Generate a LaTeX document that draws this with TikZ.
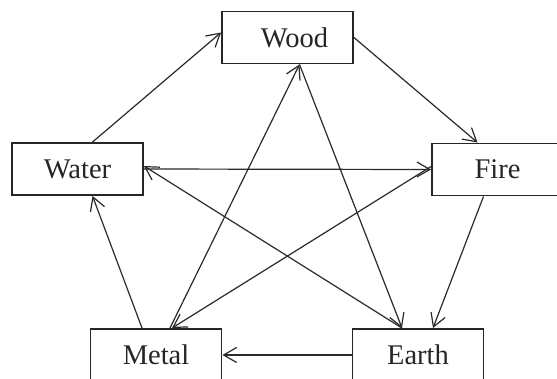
\documentclass[tikz,border=0pt]{standalone}
\usepackage{fontspec}
\setmainfont{Liberation Serif}
\usetikzlibrary{arrows.meta}
\definecolor{ink}{HTML}{2A2A2A}
\begin{document}
\begin{tikzpicture}[x=1pt,y=-1pt,
  element/.style={draw=black!85,line width=1.9pt,fill=white,minimum width=131pt,
    minimum height=52pt,inner sep=0pt,font=\fontsize{28.5}{31}\selectfont,text=black!85},
  flow/.style={draw=ink,line width=1.2pt,-{Straight Barb[length=13pt,width=15pt,line width=1.2pt]}}]
\useasboundingbox (0,0) rectangle (557,378);
\fill[white] (0,0) rectangle (557,378);

\node[element] (wood)  at (287.5,37.5) {\hspace*{14pt}Wood};
\node[element] (water) at (77.5,169)   {Water};
\node[element] (fire)  at (497.5,169.5){Fire};
\node[element] (metal) at (156,355)    {Metal};
\node[element] (earth) at (418,355)    {Earth};

% generating cycle around the outside
\draw[flow] ([xshift=15pt]water.north) -- ([yshift=5pt]wood.west);
\draw[flow] (wood.east) -- ([xshift=-20pt]fire.north);
\draw[flow] ([xshift=-14pt]fire.south) -- ([xshift=15pt]earth.north);
\draw[flow] (earth.west) -- (metal.east);
\draw[flow] ([xshift=-14pt]metal.north) -- ([xshift=15pt]water.south);

% controlling star through the middle
\draw[flow] (water.east) -- (fire.west);
\draw[flow] ([xshift=-16pt]earth.north) -- ([yshift=3pt]water.east);
\draw[flow] ([xshift=12pt]wood.south) -- ([xshift=-16pt]earth.north);
\draw[flow] ([yshift=3pt]fire.west) -- ([xshift=16pt]metal.north);
\draw[flow] ([xshift=14pt]metal.north) -- ([xshift=12pt]wood.south);
\end{tikzpicture}
\end{document}
